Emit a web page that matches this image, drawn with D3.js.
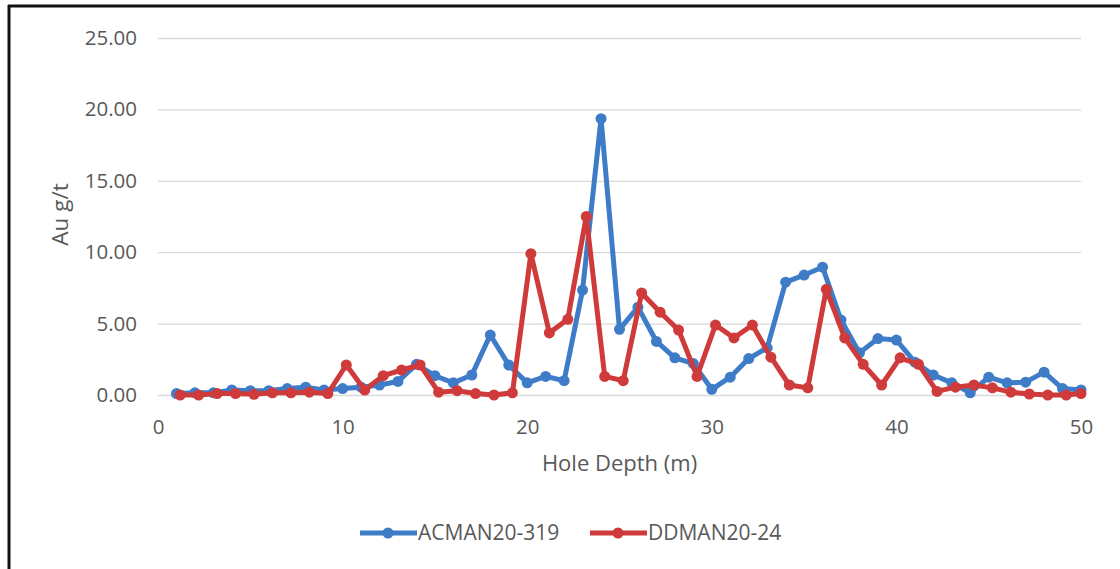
<!DOCTYPE html>
<html>
<head>
<meta charset="utf-8">
<script src="https://cdn.jsdelivr.net/npm/d3@7"></script>
<style>
  body { margin: 0; background: #fff; }
  text { font-family: "Open Sans", Lato, sans-serif; fill: #595959; }
</style>
</head>
<body>
<svg id="chart" width="1120" height="569"></svg>
<script>
// data
const seriesNames = ["ACMAN20-319", "DDMAN20-24"];

const acmanDepth = d3.range(1, 51);
const acmanAu = [0.10, 0.15, 0.15, 0.35, 0.30, 0.30, 0.45, 0.55, 0.35, 0.45,
                 0.55, 0.70, 0.95, 2.15, 1.35, 0.85, 1.40, 4.20, 2.10, 0.85,
                 1.30, 1.00, 7.35, 19.35, 4.60, 6.15, 3.75, 2.60, 2.20, 0.40,
                 1.25, 2.55, 3.30, 7.90, 8.40, 8.95, 5.25, 2.95, 3.95, 3.85,
                 2.30, 1.40, 0.85, 0.15, 1.25, 0.85, 0.90, 1.60, 0.45, 0.35];

const ddmanDepth = [1.2, 2.2, 3.2, 4.2, 5.2, 6.2, 7.2, 8.2, 9.2, 10.2,
                    11.2, 12.2, 13.2, 14.2, 15.2, 16.2, 17.2, 18.2, 19.2, 20.2,
                    21.2, 22.2, 23.2, 24.2, 25.2, 26.2, 27.2, 28.2, 29.2, 30.2,
                    31.2, 32.2, 33.2, 34.2, 35.2, 36.2, 37.2, 38.2, 39.2, 40.2,
                    41.2, 42.2, 43.2, 44.2, 45.2, 46.2, 47.2, 48.2, 49.2, 50.0];
const ddmanAu = [0.00, 0.00, 0.10, 0.10, 0.05, 0.15, 0.15, 0.20, 0.10, 2.10,
                 0.35, 1.35, 1.75, 2.10, 0.20, 0.30, 0.10, 0.00, 0.15, 9.90,
                 4.35, 5.30, 12.50, 1.30, 1.00, 7.15, 5.80, 4.55, 1.30, 4.90,
                 4.00, 4.90, 2.65, 0.70, 0.50, 7.40, 4.00, 2.15, 0.70, 2.60,
                 2.15, 0.25, 0.55, 0.70, 0.50, 0.20, 0.07, 0.00, 0.00, 0.10];

const xTicks = [0, 10, 20, 30, 40, 50];
const yTicks = [0, 5, 10, 15, 20, 25];
const colors = ["#3f7cc8", "#cf3a3a"];

const svg = d3.select("#chart");
const width = +svg.attr("width");
const height = +svg.attr("height");

const margin = { top: 38, right: 39, bottom: 174, left: 158 };
const innerWidth = width - margin.left - margin.right;
const innerHeight = height - margin.top - margin.bottom;

// frame (only top and left edges show in the reference)
svg.append("line").attr("x1", 8).attr("x2", 1120).attr("y1", 6).attr("y2", 6)
    .attr("stroke", "#111").attr("stroke-width", 3);
svg.append("line").attr("x1", 9).attr("x2", 9).attr("y1", 5).attr("y2", 569)
    .attr("stroke", "#111").attr("stroke-width", 3);

const g = svg.append("g")
    .attr("transform", `translate(${margin.left},${margin.top})`);

// scales
const xScale = d3.scaleLinear().domain([0, 50]).range([0, innerWidth]);
const yScale = d3.scaleLinear().domain([0, 25]).range([innerHeight, 0]);

// grid + y axis
const yAxis = d3.axisLeft(yScale)
    .tickValues(yTicks)
    .tickSize(-innerWidth)
    .tickPadding(21)
    .tickFormat(d3.format(".2f"));

const gy = g.append("g").call(yAxis);
gy.select(".domain").remove();
gy.selectAll(".tick line").attr("stroke", "#d9d9d9").attr("stroke-width", 1.3);
gy.selectAll(".tick text").style("font-size", "20.5px").attr("fill", "#595959");

// x axis (labels only)
const xAxis = d3.axisBottom(xScale)
    .tickValues(xTicks)
    .tickSize(0)
    .tickPadding(24);

const gx = g.append("g")
    .attr("transform", `translate(0,${innerHeight})`)
    .call(xAxis);
gx.select(".domain").remove();
gx.selectAll(".tick text").style("font-size", "20.5px").attr("fill", "#595959");

// axis titles
g.append("text")
    .attr("x", innerWidth / 2)
    .attr("y", innerHeight + 76)
    .attr("text-anchor", "middle")
    .style("font-size", "22px")
    .text("Hole Depth (m)");

g.append("text")
    .attr("transform", `translate(${68 - margin.left},${innerHeight / 2 - 2}) rotate(-90)`)
    .attr("text-anchor", "middle")
    .style("font-size", "22.5px")
    .text("Au g/t");

// series
const series = [
    { name: seriesNames[0], pts: acmanDepth.map((d, i) => [d, acmanAu[i]]) },
    { name: seriesNames[1], pts: ddmanDepth.map((d, i) => [d, ddmanAu[i]]) }
];

const line = d3.line()
    .x(d => xScale(d[0]))
    .y(d => yScale(d[1]));

series.forEach((s, i) => {
    const sg = g.append("g");
    sg.append("path")
        .datum(s.pts)
        .attr("fill", "none")
        .attr("stroke", colors[i])
        .attr("stroke-width", 5)
        .attr("stroke-linejoin", "round")
        .attr("d", line);
    sg.selectAll("circle")
        .data(s.pts)
        .enter()
        .append("circle")
        .attr("cx", d => xScale(d[0]))
        .attr("cy", d => yScale(d[1]))
        .attr("r", 5.5)
        .attr("fill", colors[i]);
});

// legend
const legendX = [360, 590];
const legend = svg.append("g").attr("transform", "translate(0,533)");
seriesNames.forEach((name, i) => {
    const lg = legend.append("g").attr("transform", `translate(${legendX[i]},0)`);
    lg.append("line").attr("x1", 0).attr("x2", 57)
        .attr("stroke", colors[i]).attr("stroke-width", 5);
    lg.append("circle").attr("cx", 28).attr("r", 5.5).attr("fill", colors[i]);
    lg.append("text").attr("x", 58).attr("dy", "0.35em")
        .style("font-size", "21px").text(name);
});
</script>
</body>
</html>
